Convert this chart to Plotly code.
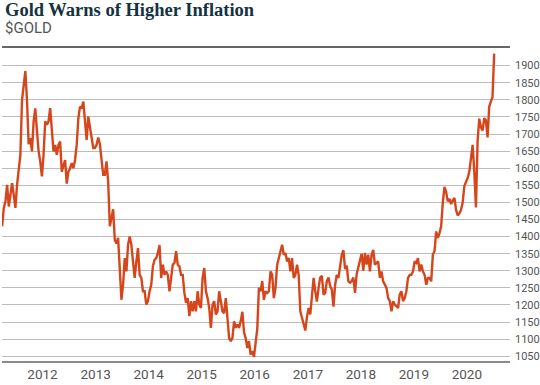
import pandas as pd
import plotly.graph_objects as go

# Weekly-ish gold price readings (USD/oz), evenly spaced in time
start_date = "2011-03-29"
end_date = "2020-07-07"
gold_price = [
    # 2011 - early 2012
    1430, 1484, 1503, 1551, 1488, 1532, 1556, 1522, 1484, 1551, 1595, 1639, 1800, 1853, 1884,
    1800, 1670, 1688, 1649, 1737, 1775, 1710, 1650, 1620, 1576, 1639, 1737, 1727, 1737, 1776,
    1707, 1649, 1668, 1639, 1668, 1678, 1590, 1610, 1624, 1555, 1590, 1600, 1615,
    # 2012 - 2013
    1600, 1624, 1668, 1746, 1780, 1775, 1795, 1727, 1683, 1751, 1717, 1697, 1659, 1659, 1668,
    1690, 1670, 1625, 1581, 1581, 1620, 1560, 1430, 1454, 1480, 1390, 1380, 1396, 1298, 1215,
    1259, 1337, 1298, 1376, 1400, 1376, 1327, 1279, 1327, 1366, 1288, 1279, 1240, 1240,
    # 2014 - 2015
    1201, 1211, 1240, 1259, 1313, 1332, 1337, 1352, 1375, 1279, 1318, 1288, 1298, 1288, 1240,
    1279, 1318, 1323, 1357, 1318, 1313, 1288, 1288, 1235, 1206, 1220, 1167, 1211, 1181, 1211,
    1181, 1240, 1201, 1191, 1279, 1308, 1240, 1220, 1191, 1133, 1201, 1211, 1172, 1181,
    # 2015 - 2016
    1240, 1211, 1181, 1176, 1220, 1162, 1103, 1094, 1103, 1152, 1133, 1143, 1133, 1152, 1180,
    1120, 1103, 1074, 1094, 1055, 1065, 1048, 1094, 1130, 1250, 1240, 1270, 1215, 1240, 1235,
    1240, 1298, 1288, 1220, 1250, 1318, 1337, 1357, 1376, 1347, 1352, 1327, 1337, 1298,
    # 2016 - 2017
    1337, 1279, 1288, 1318, 1288, 1181, 1162, 1143, 1125, 1165, 1191, 1172, 1220, 1279, 1240,
    1210, 1250, 1280, 1285, 1230, 1235, 1270, 1280, 1255, 1245, 1195, 1259, 1288, 1279, 1318,
    1347, 1360, 1305, 1315, 1269, 1265, 1270, 1280, 1235, 1290, 1312, 1325, 1350, 1300,
    # 2018 - 2019
    1352, 1318, 1347, 1298, 1347, 1361, 1318, 1323, 1327, 1279, 1298, 1269, 1259, 1250, 1220,
    1211, 1181, 1211, 1201, 1196, 1191, 1230, 1240, 1211, 1220, 1240, 1279, 1288, 1288, 1298,
    1327, 1323, 1337, 1298, 1318, 1298, 1288, 1259, 1279, 1279, 1269, 1347, 1357, 1415,
    # 2019 - 2020
    1396, 1410, 1430, 1500, 1545, 1530, 1503, 1510, 1495, 1505, 1513, 1478, 1462, 1468, 1478,
    1500, 1548, 1560, 1571, 1590, 1630, 1668, 1590, 1485, 1680, 1745, 1720, 1710, 1746, 1740,
    1690, 1780, 1795, 1808, 1935,
]

year_ticks = ["2012", "2013", "2014", "2015", "2016", "2017", "2018", "2019", "2020"]
price_ticks = list(range(1050, 1901, 50))
title_text = "Gold Warns of Higher Inflation"
subtitle_text = "$GOLD"

dates = pd.date_range(start_date, end_date, periods=len(gold_price))

label_font = "Roboto, Liberation Sans, sans-serif"

fig = go.Figure()
fig.add_trace(go.Scatter(
    x=dates, y=gold_price, mode="lines",
    line=dict(color="#d6461c", width=2.4),
    hoverinfo="skip", showlegend=False,
))

header = (
    "<span style='font-family:Liberation Serif, DejaVu Serif, serif;font-size:18.5px;"
    f"font-weight:bold;fill:#14323f'>{title_text}</span><br>"
    f"<span style='font-size:15px'>{subtitle_text}</span>"
)

fig.update_layout(
    width=540, height=385,
    margin=dict(l=2, r=30, t=47, b=24, autoexpand=False),
    paper_bgcolor="white", plot_bgcolor="white",
    xaxis=dict(
        range=["2011-03-28", "2020-10-24"],
        tickvals=[f"{y}-01-01" for y in year_ticks],
        ticktext=year_ticks,
        showgrid=False, zeroline=False, automargin=False,
        showline=True, linecolor="#8a8a8a", linewidth=2,
        ticks="", ticklen=0, ticklabelstandoff=0,
        tickfont=dict(family=label_font, size=13.5, color="#555555"),
    ),
    yaxis=dict(
        range=[1036, 1954.5], side="right", automargin=False,
        tickvals=price_ticks,
        showgrid=True, gridcolor="#bdbdbd", gridwidth=1,
        zeroline=False, showline=False, ticks="", ticklen=0,
        ticklabelstandoff=4,
        tickfont=dict(family=label_font, size=11, color="#555555"),
    ),
    shapes=[dict(type="line", xref="paper", yref="paper", x0=0, x1=1, y0=1, y1=1,
                 line=dict(color="#333333", width=1.5))],
    annotations=[
        dict(text=header, xref="paper", yref="paper", align="left",
             x=0.003, y=1.153, xanchor="left", yanchor="top", showarrow=False, borderpad=0,
             font=dict(family=label_font, size=13, color="#555555")),
    ],
)

fig.write_html("out.html", post_script="document.body.style.margin='0';",
               config={"displayModeBar": False})
